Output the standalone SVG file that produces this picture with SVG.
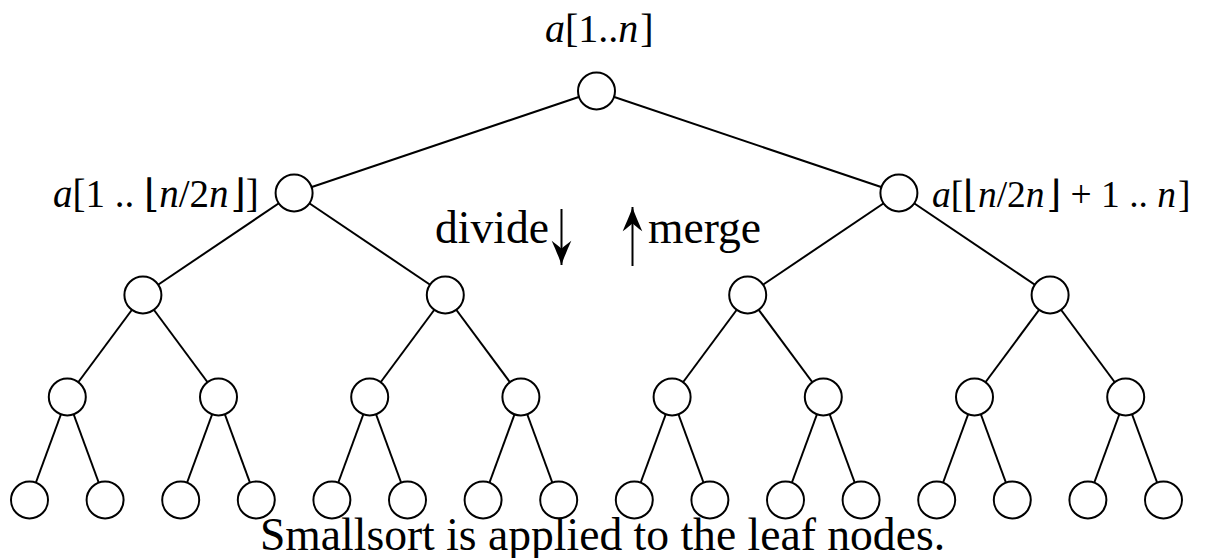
<svg xmlns="http://www.w3.org/2000/svg" width="1205" height="558" viewBox="0 0 1205 558">
<style>
.e{stroke:#000;stroke-width:2;fill:none}
.n{fill:#fff;stroke:#000;stroke-width:2}
.t{font-family:"Liberation Serif","DejaVu Serif",serif;fill:#000}
.i{font-style:italic}
</style>
<defs>
<marker id="ah" markerUnits="userSpaceOnUse" markerWidth="30" markerHeight="30" viewBox="-24 -12 26 24" refX="0" refY="0" orient="auto" overflow="visible">
<path d="M0,0 C-5,1.5 -13,5 -21,8.5 C-18,4.5 -16,2 -14,0 C-16,-2 -18,-4.5 -21,-8.5 C-13,-5 -5,-1.5 0,0 Z" fill="#000"/>
</marker>
</defs>
<rect width="1205" height="558" fill="#fff"/>
<g id="connectors">
<line class="e" x1="596.5" y1="91" x2="294.1" y2="193"/>
<line class="e" x1="596.5" y1="91" x2="898.9" y2="193"/>
<line class="e" x1="294.1" y1="193" x2="142.9" y2="295"/>
<line class="e" x1="294.1" y1="193" x2="445.3" y2="295"/>
<line class="e" x1="898.9" y1="193" x2="747.7" y2="295"/>
<line class="e" x1="898.9" y1="193" x2="1050.1" y2="295"/>
<line class="e" x1="142.9" y1="295" x2="67.3" y2="397"/>
<line class="e" x1="142.9" y1="295" x2="218.5" y2="397"/>
<line class="e" x1="445.3" y1="295" x2="369.7" y2="397"/>
<line class="e" x1="445.3" y1="295" x2="520.9" y2="397"/>
<line class="e" x1="747.7" y1="295" x2="672.1" y2="397"/>
<line class="e" x1="747.7" y1="295" x2="823.3" y2="397"/>
<line class="e" x1="1050.1" y1="295" x2="974.5" y2="397"/>
<line class="e" x1="1050.1" y1="295" x2="1125.7" y2="397"/>
<line class="e" x1="67.3" y1="397" x2="29.5" y2="500"/>
<line class="e" x1="67.3" y1="397" x2="105.1" y2="500"/>
<line class="e" x1="218.5" y1="397" x2="180.7" y2="500"/>
<line class="e" x1="218.5" y1="397" x2="256.3" y2="500"/>
<line class="e" x1="369.7" y1="397" x2="331.9" y2="500"/>
<line class="e" x1="369.7" y1="397" x2="407.5" y2="500"/>
<line class="e" x1="520.9" y1="397" x2="483.1" y2="500"/>
<line class="e" x1="520.9" y1="397" x2="558.7" y2="500"/>
<line class="e" x1="672.1" y1="397" x2="634.3" y2="500"/>
<line class="e" x1="672.1" y1="397" x2="709.9" y2="500"/>
<line class="e" x1="823.3" y1="397" x2="785.5" y2="500"/>
<line class="e" x1="823.3" y1="397" x2="861.1" y2="500"/>
<line class="e" x1="974.5" y1="397" x2="936.7" y2="500"/>
<line class="e" x1="974.5" y1="397" x2="1012.3" y2="500"/>
<line class="e" x1="1125.7" y1="397" x2="1087.9" y2="500"/>
<line class="e" x1="1125.7" y1="397" x2="1163.5" y2="500"/>
<line id="divide-arrow" class="e" x1="561.5" y1="209" x2="561.5" y2="265" marker-end="url(#ah)"/>
<line id="merge-arrow" class="e" x1="632.5" y1="266" x2="632.5" y2="207" marker-end="url(#ah)"/>
</g>
<g id="root"><circle class="n" cx="596.5" cy="91" r="18.5"/></g>
<g id="n1a"><circle class="n" cx="294.1" cy="193" r="18.5"/></g>
<g id="n1b"><circle class="n" cx="898.9" cy="193" r="18.5"/></g>
<g id="n2a"><circle class="n" cx="142.9" cy="295" r="18.5"/></g>
<g id="n2b"><circle class="n" cx="445.3" cy="295" r="18.5"/></g>
<g id="n2c"><circle class="n" cx="747.7" cy="295" r="18.5"/></g>
<g id="n2d"><circle class="n" cx="1050.1" cy="295" r="18.5"/></g>
<g id="n3a"><circle class="n" cx="67.3" cy="397" r="18.5"/></g>
<g id="n3b"><circle class="n" cx="218.5" cy="397" r="18.5"/></g>
<g id="n3c"><circle class="n" cx="369.7" cy="397" r="18.5"/></g>
<g id="n3d"><circle class="n" cx="520.9" cy="397" r="18.5"/></g>
<g id="n3e"><circle class="n" cx="672.1" cy="397" r="18.5"/></g>
<g id="n3f"><circle class="n" cx="823.3" cy="397" r="18.5"/></g>
<g id="n3g"><circle class="n" cx="974.5" cy="397" r="18.5"/></g>
<g id="n3h"><circle class="n" cx="1125.7" cy="397" r="18.5"/></g>
<g id="l01"><circle class="n" cx="29.5" cy="500" r="18.5"/></g>
<g id="l02"><circle class="n" cx="105.1" cy="500" r="18.5"/></g>
<g id="l03"><circle class="n" cx="180.7" cy="500" r="18.5"/></g>
<g id="l04"><circle class="n" cx="256.3" cy="500" r="18.5"/></g>
<g id="l05"><circle class="n" cx="331.9" cy="500" r="18.5"/></g>
<g id="l06"><circle class="n" cx="407.5" cy="500" r="18.5"/></g>
<g id="l07"><circle class="n" cx="483.1" cy="500" r="18.5"/></g>
<g id="l08"><circle class="n" cx="558.7" cy="500" r="18.5"/></g>
<g id="l09"><circle class="n" cx="634.3" cy="500" r="18.5"/></g>
<g id="l10"><circle class="n" cx="709.9" cy="500" r="18.5"/></g>
<g id="l11"><circle class="n" cx="785.5" cy="500" r="18.5"/></g>
<g id="l12"><circle class="n" cx="861.1" cy="500" r="18.5"/></g>
<g id="l13"><circle class="n" cx="936.7" cy="500" r="18.5"/></g>
<g id="l14"><circle class="n" cx="1012.3" cy="500" r="18.5"/></g>
<g id="l15"><circle class="n" cx="1087.9" cy="500" r="18.5"/></g>
<g id="l16"><circle class="n" cx="1163.5" cy="500" r="18.5"/></g>
<g id="labels">
<text class="t" x="545" y="42" font-size="40"><tspan class="i">a</tspan>[1..<tspan class="i">n</tspan><tspan dx="2">]</tspan></text>
<text class="t" x="53" y="207" font-size="39"><tspan class="i">a</tspan>[1 .. ⌊<tspan class="i">n</tspan>/2<tspan class="i">n</tspan><tspan dx="2">⌋]</tspan></text>
<text class="t" x="932" y="207" font-size="37.5"><tspan class="i">a</tspan>[⌊<tspan class="i">n</tspan>/2<tspan class="i">n</tspan><tspan dx="2">⌋ + 1 .. </tspan><tspan class="i">n</tspan><tspan dx="2">]</tspan></text>
<text class="t" x="435" y="243" font-size="45.6">divide</text>
<text class="t" x="648" y="243" font-size="45.6">merge</text>
<text class="t" x="260" y="550" font-size="45.6">Smallsort is applied to the leaf nodes.</text>
</g>
</svg>
